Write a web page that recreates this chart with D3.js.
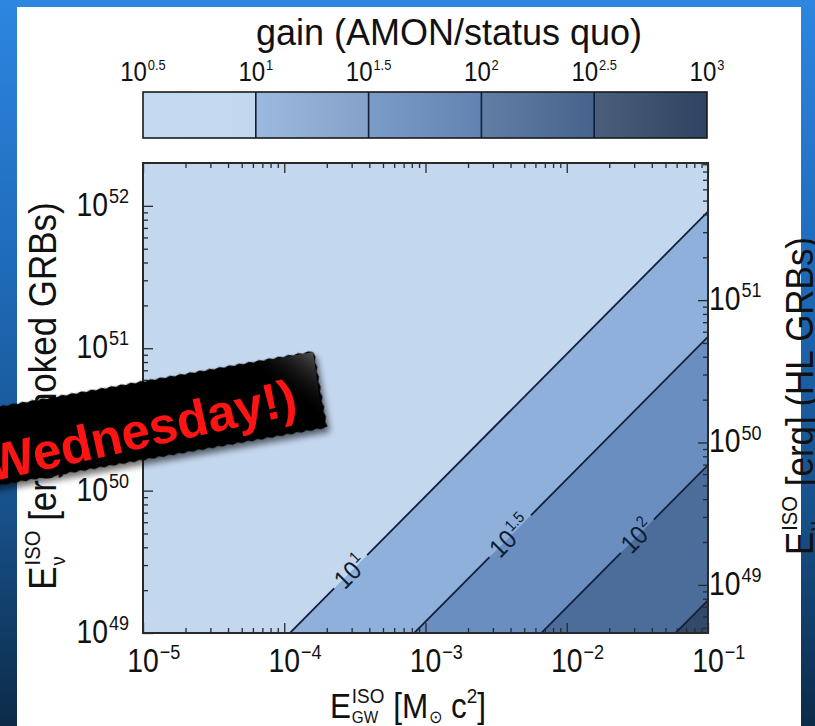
<!DOCTYPE html>
<html>
<head>
<meta charset="utf-8">
<script src="https://cdn.jsdelivr.net/npm/d3@7/dist/d3.min.js"></script>
<style>
  body { margin: 0; overflow: hidden; background: #fff; }
  svg { display: block; font-family: "Liberation Sans", Arial, Helvetica, sans-serif; }
  svg text { white-space: pre; }
</style>
</head>
<body>
<svg id="chart" width="815" height="726"></svg>
<script>
// ---- data ----
var xTickExp = [-5, -4, -3, -2, -1];            // E_GW^ISO decades
var yTickExpLeft = [49, 50, 51, 52];            // choked GRBs axis
var yTickExpRight = [49, 50, 51];               // HL GRBs axis
var yLeftDomainExp = [49, 52.301];
var yRightDomainExp = [48.662, 51.963];
var gainEdges = [0.5, 1, 1.5, 2, 2.5, 3];       // log10 gain, colorbar edges
var gainLabels = ["0.5", "1", "1.5", "2", "2.5", "3"];
var bandColors = ["#c3d7ef", "#8fb0db", "#6a8ec0", "#4c6c99", "#33496a"];
var contourLevels = ["1", "1.5", "2", "2.5"];   // log10 gain on each line
var contourOffsets = [52.96, 52.08, 51.18, 50.23]; // log10(E_nu) - log10(E_GW) along line
var labelLogX = [-3.53, -2.40, -1.50];          // where the 10^1, 10^1.5, 10^2 labels sit

var svg = d3.select("#chart");
var W = 815, H = 726;
var defs = svg.append("defs");
var pow10 = function (v) { return Math.pow(10, v); };

// slide background
var bg = defs.append("linearGradient").attr("id", "bg")
  .attr("x1", 0).attr("y1", 0).attr("x2", 0).attr("y2", 1);
[[0, "#2d86e0"], [0.35, "#1f6cbb"], [0.7, "#17518a"], [1, "#0c2b49"]].forEach(function (s) {
  bg.append("stop").attr("offset", s[0]).attr("stop-color", s[1]);
});
svg.append("rect").attr("width", W).attr("height", H).attr("fill", "url(#bg)");
svg.append("rect").attr("x", 17).attr("y", 7).attr("width", 784).attr("height", 719).attr("fill", "#fff");

// rich text helper: parts laid out along x, sup/sub by dy, "stack" starts at previous part's x
// sx squeezes the glyphs horizontally (the source font is a narrow Helvetica)
function rich(parent, parts, sx) {
  sx = sx || 1;
  var outer = parent.append("g");
  var g = outer.append("g").attr("transform", "scale(" + sx + ",1)");
  var cx = 0, prevStart = 0, widths = [];
  parts.forEach(function (p) {
    var start = p.stack ? prevStart : cx + (p.dx || 0);
    var t = g.append("text").attr("x", start).attr("y", p.dy || 0)
      .attr("xml:space", "preserve")
      .attr("font-size", p.fs).attr("fill", p.fill || "#111").text(p.t);
    var w = t.node().getComputedTextLength();
    widths.push(w * sx);
    cx = p.stack ? Math.max(cx, start + w) : start + w;
    prevStart = start;
  });
  return { g: outer, width: cx * sx, widths: widths };
}

// ---- scales ----
var plot = { left: 143, right: 708, top: 163, bottom: 633 };
var x = d3.scaleLog().domain([pow10(xTickExp[0]), pow10(xTickExp[xTickExp.length - 1])])
  .range([plot.left, plot.right]);
var y = d3.scaleLog().domain(yLeftDomainExp.map(pow10)).range([plot.bottom, plot.top]);
var yR = d3.scaleLog().domain(yRightDomainExp.map(pow10)).range([plot.bottom, plot.top]);
var pxPerDecade = x(10 * x.domain()[0]) - x(x.domain()[0]);

defs.append("clipPath").attr("id", "plotclip").append("rect")
  .attr("x", plot.left).attr("y", plot.top)
  .attr("width", plot.right - plot.left).attr("height", plot.bottom - plot.top);

var area = svg.append("g").attr("clip-path", "url(#plotclip)");
area.append("rect").attr("x", plot.left).attr("y", plot.top)
  .attr("width", plot.right - plot.left).attr("height", plot.bottom - plot.top)
  .attr("fill", bandColors[0]);

var lineGen = d3.line().x(function (d) { return x(pow10(d[0])); })
  .y(function (d) { return y(pow10(d[1])); });

// filled bands below each contour
area.selectAll("path.band").data(contourOffsets).enter().append("path")
  .attr("class", "band")
  .attr("d", function (c) {
    return lineGen([[-7, -7 + c], [0, c], [0, 40], [-7, 40]]) + "Z";
  })
  .attr("fill", function (c, i) { return bandColors[i + 1]; });

// contour lines with labels
contourOffsets.forEach(function (c, i) {
  var segs = [[-7, 0]];
  if (i < labelLogX.length) {
    var lx = labelLogX[i];
    var px = x(pow10(lx)), py = y(pow10(lx + c));
    var ang = Math.atan2(y(pow10(lx + c + 0.5)) - py, x(pow10(lx + 0.5)) - px);
    var lab = area.append("g");
    var r = rich(lab, [{ t: "10", fs: 26, fill: "#0f1c32" }, { t: contourLevels[i], fs: 16, dy: -11, dx: 1, fill: "#0f1c32" }], 0.9);
    r.g.attr("transform", "translate(" + (-r.width / 2) + ",9)");
    lab.attr("transform", "translate(" + px + "," + py + ") rotate(" + (ang * 180 / Math.PI) + ")");
    var half = r.width / 2 + 6;
    var dl = half * Math.cos(ang) / pxPerDecade;
    segs = [[-7, lx - dl], [lx + dl, 0]];
  }
  segs.forEach(function (s) {
    area.append("path")
      .attr("d", lineGen([[s[0], s[0] + c], [s[1], s[1] + c]]))
      .attr("fill", "none").attr("stroke", "#132038").attr("stroke-width", 1.8);
  });
});

// ---- ticks (inward, minor + major) ----
function minorTicks(scale) {
  var d = scale.domain(), lo = Math.log10(d[0]), hi = Math.log10(d[1]), out = [];
  for (var k = Math.floor(lo); k <= Math.ceil(hi); k++) {
    for (var m = 2; m <= 9; m++) {
      var v = m * Math.pow(10, k), lv = Math.log10(v);
      if (lv > lo + 1e-6 && lv < hi - 1e-6) out.push(v);
    }
  }
  return out;
}
function majors(exps) { return exps.map(pow10); }

var tickDefs = [
  { axis: d3.axisBottom(x), at: "translate(0," + plot.bottom + ")", maj: majors(xTickExp), s: x },
  { axis: d3.axisTop(x), at: "translate(0," + plot.top + ")", maj: majors(xTickExp), s: x },
  { axis: d3.axisLeft(y), at: "translate(" + plot.left + ",0)", maj: majors(yTickExpLeft), s: y },
  { axis: d3.axisRight(yR), at: "translate(" + plot.right + ",0)", maj: majors(yTickExpRight), s: yR }
];
tickDefs.forEach(function (t) {
  [[t.maj, -10], [minorTicks(t.s), -5]].forEach(function (set) {
    var g = svg.append("g").attr("transform", t.at)
      .call(t.axis.tickValues(set[0]).tickSize(set[1]).tickFormat(""));
    g.select(".domain").remove();
    g.selectAll(".tick line").attr("stroke", "#2a2a2a").attr("stroke-width", 1.3);
  });
});

svg.append("rect").attr("x", plot.left).attr("y", plot.top)
  .attr("width", plot.right - plot.left).attr("height", plot.bottom - plot.top)
  .attr("fill", "none").attr("stroke", "#2a2a2a").attr("stroke-width", 2);

// ---- tick labels ----
var SX = 0.86;
function powLabel(exp) {
  return [{ t: "10", fs: 33 }, { t: exp, fs: 21, dy: -13, dx: 1 }];
}
xTickExp.forEach(function (e) {
  var r = rich(svg, powLabel("\u2212" + Math.abs(e)), SX);
  r.g.attr("transform", "translate(" + (x(pow10(e)) - r.widths[0] / 2) + "," + (plot.bottom + 39) + ")");
});
yTickExpLeft.forEach(function (e) {
  var r = rich(svg, powLabel(String(e)), SX);
  r.g.attr("transform", "translate(" + (129 - r.width) + "," + (y(pow10(e)) + 10) + ")");
});
yTickExpRight.forEach(function (e) {
  var r = rich(svg, powLabel(String(e)), SX);
  r.g.attr("transform", "translate(" + (plot.right + 1) + "," + (yR(pow10(e)) + 10) + ")");
});

// ---- axis titles ----
var xt = rich(svg, [
  { t: "E", fs: 35 },
  { t: "ISO", fs: 21, dy: -15, dx: 1 },
  { t: "GW", fs: 17, dy: 5, stack: true },
  { t: " [M", fs: 35 },
  { t: "\u2299", fs: 18, dy: 5, dx: 1 },
  { t: " c", fs: 35 },
  { t: "2", fs: 21, dy: -15 },
  { t: "]", fs: 35 }
], 0.9);
xt.g.attr("transform", "translate(" + (408 - xt.width / 2) + ",718)");

function yTitle(rest, cxPos) {
  var r = rich(svg, [
    { t: "E", fs: 38 },
    { t: "ISO", fs: 22, dy: -16, dx: 1 },
    { t: "\u03bd", fs: 20, dy: 9, stack: true },
    { t: rest, fs: 38 }
  ], 0.92);
  var cy = (plot.top + plot.bottom) / 2 - 2;
  r.g.attr("transform", "translate(" + cxPos + "," + (cy + r.width / 2) + ") rotate(-90)");
}
yTitle(" [erg] (choked GRBs)", 56);
yTitle(" [erg] (HL GRBs)", 813);

// ---- colorbar ----
var cb = d3.scaleLinear().domain([gainEdges[0], gainEdges[gainEdges.length - 1]]).range([143, 707]);
var cbTop = 92, cbH = 46;
bandColors.forEach(function (c, i) {
  var gr = defs.append("linearGradient").attr("id", "cb" + i);
  gr.append("stop").attr("offset", 0).attr("stop-color", d3.interpolateRgb(c, "#ffffff")(i ? 0.12 : 0.04));
  gr.append("stop").attr("offset", 1).attr("stop-color", d3.interpolateRgb(c, "#000000")(i ? 0.08 : 0.0));
});
svg.selectAll("rect.cbband").data(bandColors).enter().append("rect")
  .attr("class", "cbband")
  .attr("x", function (d, i) { return cb(gainEdges[i]); })
  .attr("width", function (d, i) { return cb(gainEdges[i + 1]) - cb(gainEdges[i]); })
  .attr("y", cbTop).attr("height", cbH)
  .attr("fill", function (d, i) { return "url(#cb" + i + ")"; });
svg.selectAll("line.cbsep").data(gainEdges.slice(1, -1)).enter().append("line")
  .attr("x1", cb).attr("x2", cb).attr("y1", cbTop).attr("y2", cbTop + cbH)
  .attr("stroke", "#0f1f38").attr("stroke-width", 1.6);
svg.append("rect").attr("x", cb.range()[0]).attr("y", cbTop)
  .attr("width", cb.range()[1] - cb.range()[0]).attr("height", cbH)
  .attr("fill", "none").attr("stroke", "#1a1a1a").attr("stroke-width", 1.6);

gainEdges.forEach(function (g, i) {
  var r = rich(svg, [{ t: "10", fs: 28 }, { t: gainLabels[i], fs: 15, dy: -11, dx: 1 }], SX);
  r.g.attr("transform", "translate(" + (cb(g) - r.width / 2) + ",81)");
});
svg.append("text").attr("x", 449).attr("y", 45).attr("text-anchor", "middle")
  .attr("font-size", 36).attr("fill", "#111").text("gain (AMON/status quo)");

// ---- "(Wednesday!)" banner overlay ----
var sh = defs.append("filter").attr("id", "shadow")
  .attr("x", "-20%").attr("y", "-30%").attr("width", "140%").attr("height", "170%");
sh.append("feDropShadow").attr("dx", 2).attr("dy", 5).attr("stdDeviation", 3)
  .attr("flood-color", "#000").attr("flood-opacity", 0.55);
var hl = defs.append("linearGradient").attr("id", "curl")
  .attr("x1", 1).attr("y1", 0).attr("x2", 0.4).attr("y2", 0.6);
hl.append("stop").attr("offset", 0).attr("stop-color", "#5a5a5a").attr("stop-opacity", 0.9);
hl.append("stop").attr("offset", 1).attr("stop-color", "#000").attr("stop-opacity", 0);

function zig(x0, y0, x1, y1, step, amp) {
  var n = Math.round(Math.hypot(x1 - x0, y1 - y0) / step), pts = [];
  var nx = -(y1 - y0), ny = x1 - x0, L = Math.hypot(nx, ny);
  nx /= L; ny /= L;
  for (var i = 0; i <= n; i++) {
    var t = i / n, o = (i % 2 ? amp : 0);
    pts.push([x0 + (x1 - x0) * t + nx * o, y0 + (y1 - y0) * t + ny * o]);
  }
  return pts;
}
var bw = 440, bh = 76;
var outline = [].concat(
  zig(-bw, 0, 0, 0, 5, -1.6),
  zig(0, 0, 0, bh, 5, -1.6),
  zig(0, bh, -bw, bh, 5, -1.6)
);
var banner = svg.append("g").attr("transform", "translate(313,352) rotate(-10)");
banner.append("path").attr("d", d3.line()(outline) + "Z")
  .attr("fill", "#050505").attr("filter", "url(#shadow)");
banner.append("path").attr("d", d3.line()([[-60, 0], [0, 0], [-2, 62]]) + "Z")
  .attr("fill", "url(#curl)");
banner.append("text").attr("x", -24).attr("y", 58).attr("text-anchor", "end")
  .attr("transform", "rotate(-2.5,-24,58)")
  .attr("font-size", 51).attr("font-weight", "bold").attr("fill", "#ff1414")
  .text("(Wednesday!)");
</script>
</body>
</html>
